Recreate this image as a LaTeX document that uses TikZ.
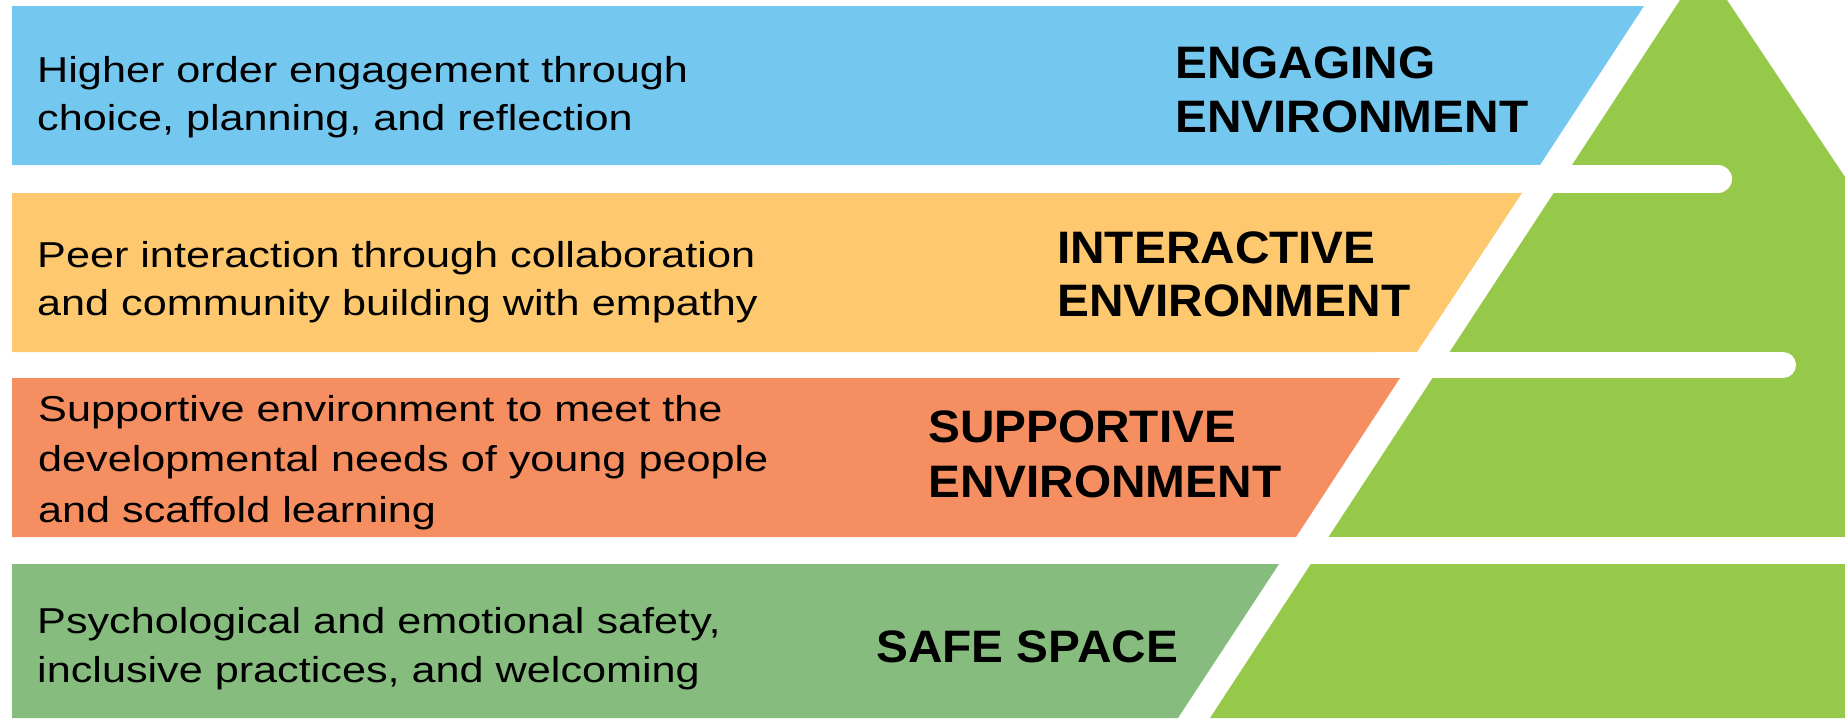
\documentclass[tikz,border=0pt]{standalone}
\usepackage{fontspec}
\newfontfamily\bodyfont[FakeStretch=1.2]{Liberation Sans}
\newfontfamily\headfont[FakeStretch=1.05]{Liberation Sans}
\definecolor{pgreen}{HTML}{96C94A}
\definecolor{cblue}{HTML}{74C8F0}
\definecolor{corange}{HTML}{FDC86E}
\definecolor{csalmon}{HTML}{F58E60}
\definecolor{cgreen}{HTML}{86BC7E}
\begin{document}
\begin{tikzpicture}[x=1pt,y=-1pt,
  body/.style={anchor=base west,inner sep=0pt,font=\bodyfont\fontsize{36}{#1}\selectfont},
  body/.default=49,
  head/.style={anchor=base west,inner sep=0pt,font=\headfont\bfseries\fontsize{45.5}{#1}\selectfont},
  head/.default=54,
  gap/.style={white,line cap=round}]
\useasboundingbox (0,0) rectangle (1845,718);
% pyramid
\fill[pgreen] (1680,0) -- (1727,0) -- (1845,177) -- (1845,718) -- (1210,718) -- cycle;
% bands
\fill[cblue] (12,6) -- (1644,6) -- (1540,165) -- (12,165) -- cycle;
\fill[corange] (12,193) -- (1522,193) -- (1417,352) -- (12,352) -- cycle;
\fill[csalmon] (12,378) -- (1400,378) -- (1296,537) -- (12,537) -- cycle;
\fill[cgreen] (12,564) -- (1279,564) -- (1178,718) -- (12,718) -- cycle;
% white bars
\draw[gap,line width=28pt] (1450,179) -- (1718,179);
\draw[gap,line width=26pt] (1380,365) -- (1783,365);
\fill[white] (1300,537) rectangle (1845,564);
% texts
\node[body=48] (t1) at (37,82) {\begin{tabular}[t]{@{}l@{}}Higher order engagement through\\choice, planning, and reflection\end{tabular}};
\node[head=54] (h1) at (1175,78) {\begin{tabular}[t]{@{}l@{}}ENGAGING\\ENVIRONMENT\end{tabular}};
\node[body=48] (t2) at (37,267) {\begin{tabular}[t]{@{}l@{}}Peer interaction through collaboration\\and community building with empathy\end{tabular}};
\node[head=53] (h2) at (1057,263) {\begin{tabular}[t]{@{}l@{}}INTERACTIVE\\ENVIRONMENT\end{tabular}};
\node[body=50.5] (t3) at (38,421) {\begin{tabular}[t]{@{}l@{}}Supportive environment to meet the\\developmental needs of young people\\and scaffold learning\end{tabular}};
\node[head=55] (h3) at (928,442) {\begin{tabular}[t]{@{}l@{}}SUPPORTIVE\\ENVIRONMENT\end{tabular}};
\node[body=49] (t4) at (37,633) {\begin{tabular}[t]{@{}l@{}}Psychological and emotional safety,\\inclusive practices, and welcoming\end{tabular}};
\node[head] (h4) at (876,662) {SAFE SPACE};
\end{tikzpicture}
\end{document}
